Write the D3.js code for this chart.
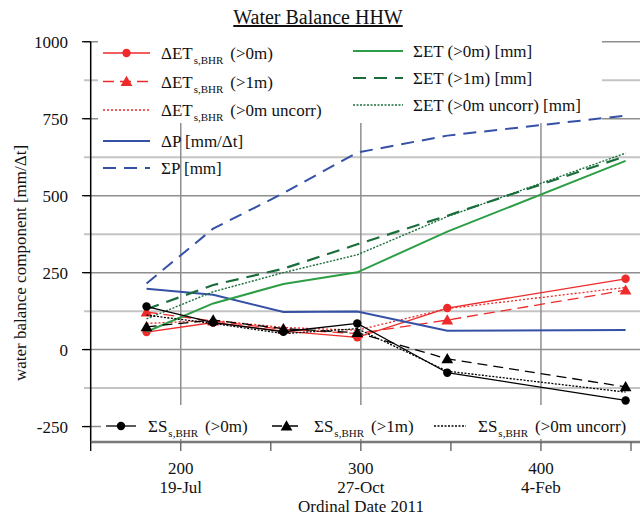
<!DOCTYPE html>
<html><head><meta charset="utf-8">
<script src="https://cdn.jsdelivr.net/npm/d3@7"></script>
<style>body{margin:0;background:#fff}svg{display:block}text{font-family:"Liberation Serif","Times New Roman",serif;fill:#111}</style>
</head><body><svg id="c" width="640" height="515" font-family="Liberation Serif, Times New Roman, serif"></svg>
<script>
// ---- data ----
const dates   = [181, 218, 257, 298, 348, 447];
const dETs0   = [57, 88, 60, 40, 135, 230];
const dETs1   = [122, 93, 66, 52, 96, 193];
const dETsU   = [85, 95, 72, 63, 133, 202];
const dP      = [198, 178, 122, 124, 61, 64];
const sP      = [215, 393, 508, 640, 695, 760];
const sET0    = [58, 150, 213, 251, 383, 613];
const sET1    = [131, 210, 263, 342, 435, 628];
const sETU    = [100, 188, 250, 308, 432, 638];
const sS0     = [140, 88, 58, 85, -75, -165];
const sS1     = [74, 96, 68, 55, -30, -121];
const sSU     = [112, 85, 52, 68, -70, -138];
const yTicks  = [-250, 0, 250, 500, 750, 1000];
const yGrid   = [-250, -125, 0, 125, 250, 375, 500, 625, 750, 875, 1000];
const xTicks  = [150, 200, 250, 300, 350, 400, 450];
const xLabels = [[200, "19-Jul"], [300, "27-Oct"], [400, "4-Feb"]];

const svg = d3.select("#c");
const x = d3.scaleLinear().domain([150, 455]).range([90.7, 640]);
const y = d3.scaleLinear().domain([-300, 1000]).range([442, 41.7]);

// gridlines
svg.selectAll(".hg").data(yGrid).join("line")
  .attr("x1", 84).attr("x2", 640).attr("y1", d => y(d)).attr("y2", d => y(d))
  .attr("stroke", d => d % 250 === 0 ? "#8e8e8e" : "#c4c4c4")
  .attr("stroke-width", d => d % 250 === 0 ? 1.5 : 2);
svg.selectAll(".vg").data([200, 300, 400]).join("line")
  .attr("x1", d => x(d)).attr("x2", d => x(d)).attr("y1", y(1000)).attr("y2", y(-300))
  .attr("stroke", "#8e8e8e").attr("stroke-width", 1.5);

// white legend boxes
svg.append("rect").attr("x", 98).attr("y", 31).attr("width", 504).attr("height", 92).attr("fill", "#fff");
svg.append("rect").attr("x", 101).attr("y", 405).attr("width", 539).attr("height", 34).attr("fill", "#fff");

// y axis
svg.append("line").attr("x1", x(150)).attr("x2", x(150)).attr("y1", y(1000)).attr("y2", y(-300))
  .attr("stroke", "#000").attr("stroke-width", 1.5);
svg.selectAll(".yt").data(yTicks).join("line")
  .attr("x1", 82).attr("x2", x(150)).attr("y1", d => y(d)).attr("y2", d => y(d))
  .attr("stroke", "#000").attr("stroke-width", 1.2);
svg.selectAll(".yl").data(yTicks).join("text")
  .attr("x", 68).attr("y", d => y(d)).attr("dy", "0.35em").attr("text-anchor", "end")
  .attr("font-size", 17).text(d => d);

// x axis
svg.append("line").attr("x1", x(150)).attr("x2", 640).attr("y1", y(-300)).attr("y2", y(-300))
  .attr("stroke", "#7a7a7a").attr("stroke-width", 2.5);
svg.selectAll(".xt").data(xTicks).join("line")
  .attr("x1", d => x(d)).attr("x2", d => x(d)).attr("y1", y(-300)).attr("y2", y(-300) + 9)
  .attr("stroke", d => d === 150 ? "#000" : "#5a5a5a").attr("stroke-width", 1.3);
const xl = svg.selectAll(".xl").data(xLabels).join("text")
  .attr("text-anchor", "middle").attr("font-size", 17);
xl.append("tspan").attr("x", d => x(d[0])).attr("y", 474).text(d => d[0]);
xl.append("tspan").attr("x", d => x(d[0])).attr("y", 493).text(d => d[1]);
svg.append("text").attr("x", 361).attr("y", 512).attr("text-anchor", "middle").attr("font-size", 17)
  .text("Ordinal Date 2011");
svg.append("text").attr("transform", "translate(26,263) rotate(-90)").attr("text-anchor", "middle")
  .attr("font-size", 17).text("water balance component [mm/Δt]");

// title
svg.append("text").attr("x", 318).attr("y", 24).attr("text-anchor", "middle").attr("font-size", 20)
  .attr("text-decoration", "underline").text("Water Balance HHW");

// series
const RED = "#ee2a2a", BLUE = "#3451a5", GREEN = "#2e9e46", DGREEN = "#1a6e3c", BLACK = "#000";
const series = [
  {v: dETs0, c: RED, w: 1.3, dash: null, m: "dot"},
  {v: dETs1, c: RED, w: 1.3, dash: "11,6", m: "tri"},
  {v: dETsU, c: RED, w: 1.3, dash: "2,2", m: null},
  {v: dP, c: BLUE, w: 2, dash: null, m: null},
  {v: sP, c: BLUE, w: 2, dash: "13,8", m: null},
  {v: sET0, c: GREEN, w: 2, dash: null, m: null},
  {v: sET1, c: DGREEN, w: 2.2, dash: "13,8", m: null},
  {v: sETU, c: DGREEN, w: 1.4, dash: "2,1.5", m: null},
  {v: sS0, c: BLACK, w: 1.3, dash: null, m: "dot"},
  {v: sS1, c: BLACK, w: 1.3, dash: "10,6", m: "tri"},
  {v: sSU, c: BLACK, w: 1.3, dash: "2,1.5", m: null}
];
const line = d3.line().x((d, i) => x(dates[i])).y(d => y(d));
const tri = d3.symbol().type(d3.symbolTriangle).size(60);
series.forEach(s => {
  svg.append("path").attr("d", line(s.v)).attr("fill", "none").attr("stroke", s.c)
    .attr("stroke-width", s.w).attr("stroke-dasharray", s.dash);
  if (s.m === "dot") {
    svg.selectAll(null).data(s.v).join("circle").attr("cx", (d, i) => x(dates[i])).attr("cy", d => y(d))
      .attr("r", 4.2).attr("fill", s.c);
  } else if (s.m === "tri") {
    svg.selectAll(null).data(s.v).join("path").attr("d", tri)
      .attr("transform", (d, i) => `translate(${x(dates[i])},${y(d) + 1})`).attr("fill", s.c);
  }
});

// legend helper
function legendEntry(lx1, lx2, ly, s, tx, main, sub, rest) {
  svg.append("line").attr("x1", lx1).attr("x2", lx2).attr("y1", ly).attr("y2", ly)
    .attr("stroke", s.c).attr("stroke-width", s.w).attr("stroke-dasharray", s.dash);
  const mx = (lx1 + lx2) / 2;
  if (s.m === "dot") svg.append("circle").attr("cx", mx).attr("cy", ly).attr("r", 4.2).attr("fill", s.c);
  if (s.m === "tri") svg.append("path").attr("d", tri()).attr("transform", `translate(${mx},${ly + 1})`).attr("fill", s.c);
  const t = svg.append("text").attr("x", tx).attr("y", ly + 6).attr("font-size", 17);
  t.append("tspan").text(main);
  if (sub) {
    t.append("tspan").attr("font-size", 11).attr("dy", 5).attr("dx", 1).text(sub);
    t.append("tspan").attr("dy", -5).attr("dx", 7).text(rest);
  }
}
legendEntry(103, 150, 53, series[0], 161, "ΔET", "s,BHR", "(>0m)");
legendEntry(103, 150, 81.5, series[1], 161, "ΔET", "s,BHR", "(>1m)");
legendEntry(103, 150, 110, series[2], 161, "ΔET", "s,BHR", "(>0m uncorr)");
legendEntry(103, 150, 141, series[3], 161, "ΔP [mm/Δt]");
legendEntry(103, 150, 168, series[4], 161, "ΣP [mm]");
legendEntry(353, 403, 51, series[5], 413, "ΣET (>0m) [mm]");
legendEntry(353, 403, 78, series[6], 413, "ΣET (>1m) [mm]");
legendEntry(353, 403, 105, series[7], 413, "ΣET (>0m uncorr) [mm]");
legendEntry(106, 136, 426, series[8], 148, "ΣS", "s,BHR", "(>0m)");
legendEntry(272, 301, 426, series[9], 314, "ΣS", "s,BHR", "(>1m)");
legendEntry(434, 466, 426, series[10], 478, "ΣS", "s,BHR", "(>0m uncorr)");
</script></body></html>
